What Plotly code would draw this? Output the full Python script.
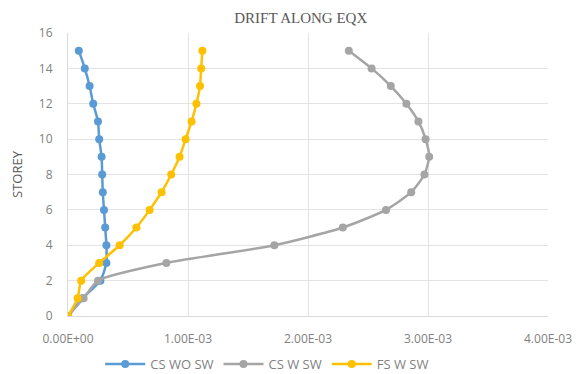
import plotly.graph_objects as go

storey = list(range(0, 16))
cs_wo_sw = [0.0, 0.12e-3, 0.27e-3, 0.32e-3, 0.32e-3, 0.31e-3, 0.30e-3, 0.29e-3, 0.285e-3,
            0.28e-3, 0.26e-3, 0.25e-3, 0.21e-3, 0.18e-3, 0.14e-3, 0.09e-3]
cs_w_sw = [0.0, 0.13e-3, 0.25e-3, 0.82e-3, 1.72e-3, 2.29e-3, 2.65e-3, 2.86e-3, 2.97e-3,
           3.01e-3, 2.98e-3, 2.92e-3, 2.82e-3, 2.69e-3, 2.53e-3, 2.34e-3]
fs_w_sw = [0.0, 0.08e-3, 0.11e-3, 0.26e-3, 0.43e-3, 0.57e-3, 0.68e-3, 0.78e-3, 0.86e-3,
           0.93e-3, 0.98e-3, 1.03e-3, 1.07e-3, 1.10e-3, 1.11e-3, 1.12e-3]
series_names = ["CS WO SW", "CS W SW", "FS W SW"]
colors = ["#5B9BD5", "#A5A5A5", "#FFC000"]
x_ticks = [0, 1e-3, 2e-3, 3e-3, 4e-3]
x_tick_labels = ["0.00E+00", "1.00E-03", "2.00E-03", "3.00E-03", "4.00E-03"]
y_ticks = list(range(0, 17, 2))

fig = go.Figure()
for name, vals, col in zip(series_names, [cs_wo_sw, cs_w_sw, fs_w_sw], colors):
    fig.add_trace(go.Scatter(
        x=vals, y=storey, name=name, mode="lines+markers",
        line=dict(color=col, width=2.5, shape="spline", smoothing=0.6),
        marker=dict(color=col, size=8, symbol="circle"),
    ))

# the page body adds an 8px offset, so the figure is sized 8px smaller
fig.update_layout(
    width=574, height=366,
    margin=dict(l=60, r=34, t=25, b=58, autoexpand=False),
    paper_bgcolor="white", plot_bgcolor="white",
    title=dict(text="DRIFT ALONG EQX", x=0.51, xanchor="center", y=0.972, yanchor="middle",
               font=dict(family="Liberation Serif", size=15, color="#595959")),
    font=dict(family="Open Sans", size=12, color="#7f7f7f"),
    showlegend=True,
    legend=dict(orientation="h", x=0.415, xanchor="center", y=-0.17, yanchor="middle",
                font=dict(family="Open Sans", size=13, color="#7f7f7f"),
                itemwidth=40, tracegroupgap=0),
    xaxis=dict(range=[0, 4e-3], tickvals=x_ticks, ticktext=x_tick_labels,
               showgrid=True, gridcolor="#e3e3e3", gridwidth=1, automargin=False,
               showline=True, linecolor="#d9d9d9", zeroline=False, ticks="",
               ticklabelstandoff=12,
               tickfont=dict(size=12, color="#7f7f7f")),
    yaxis=dict(range=[0, 16], tickvals=y_ticks, showgrid=True, gridcolor="#e3e3e3", gridwidth=1,
               showline=True, linecolor="#d9d9d9", zeroline=False, ticks="", automargin=False,
               ticklabelstandoff=12,
               title=dict(text="STOREY", font=dict(size=13, color="#595959"), standoff=14),
               tickfont=dict(size=12, color="#7f7f7f")),
)

fig.write_html("out.html")
